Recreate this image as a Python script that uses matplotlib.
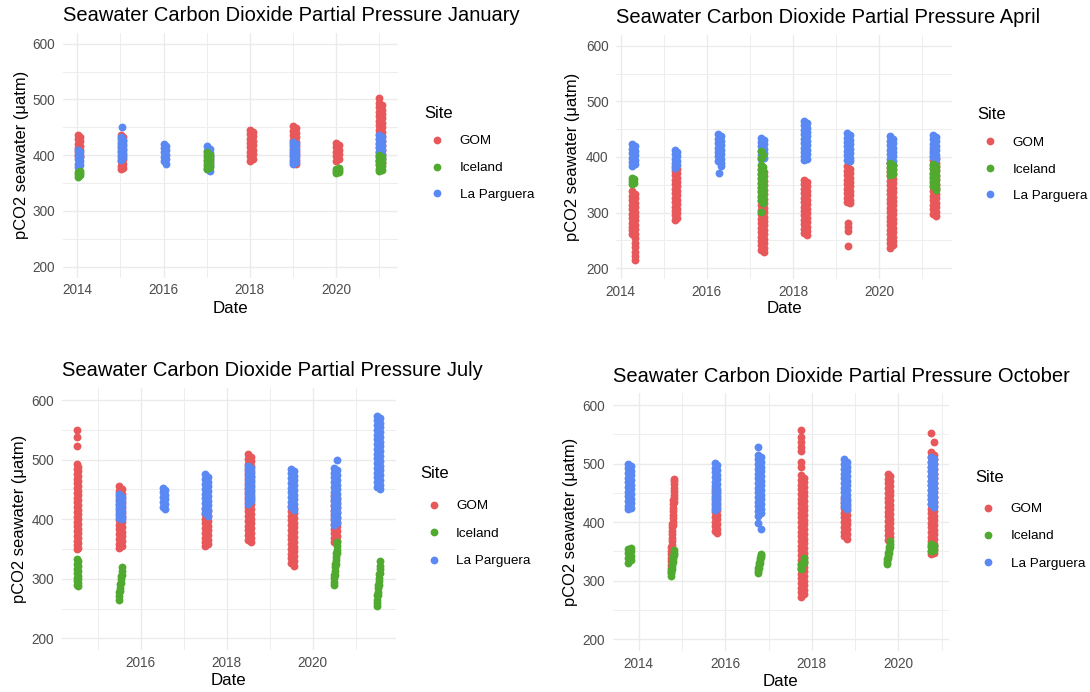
import datetime as dt

import matplotlib

matplotlib.use("Agg")
import matplotlib.dates as mdates
import matplotlib.pyplot as plt
from matplotlib.lines import Line2D
from matplotlib.ticker import FixedLocator, MultipleLocator

plt.rcParams["font.family"] = ["Liberation Sans", "DejaVu Sans"]

# Each entry: (year, day of month, pCO2 readings in µatm).
jan_gom = [
    (2014, 3, [437, 429, 421, 413, 405, 398]), (2014, 26, [433, 425, 417, 409, 401, 396]),
    (2015, 3, [437, 429, 421, 413, 405, 397, 389, 381, 375]),
    (2015, 26, [433, 425, 417, 409, 401, 393, 385, 378]),
    (2017, 26, [398, 392]),
    (2018, 3, [446, 438, 430, 422, 414, 406, 398, 390]),
    (2018, 26, [442, 434, 426, 418, 410, 402, 394]),
    (2019, 3, [452, 444, 436, 428, 420, 412, 404, 396, 388]),
    (2019, 26, [448, 440, 432, 424, 416, 408, 400, 392, 385]),
    (2020, 3, [422, 414, 406, 398, 390]), (2020, 26, [418, 410, 402, 394]),
    (2021, 3, [502, 494, 486, 478, 470, 462, 454, 446, 438, 430, 422, 414, 406, 398, 390, 382]),
    (2021, 26, [490, 482, 474, 466, 458, 450, 442, 434, 426, 418, 410, 402, 394, 386]),
]
jan_ice = [
    (2014, 3, [361, 366, 370]), (2014, 26, [364, 368, 372]),
    (2017, 3, [405, 397, 389, 381, 376]), (2017, 26, [401, 393, 385, 379]),
    (2020, 3, [368, 372, 376]), (2020, 26, [370, 374, 378]),
    (2021, 3, [400, 392, 384, 376, 372]), (2021, 26, [396, 388, 380, 374]),
]
jan_lap = [
    (2014, 3, [409, 401, 393, 385, 379]), (2014, 26, [405, 397, 389, 382]),
    (2015, 14, [450]),
    (2015, 3, [432, 424, 416, 408, 400, 392]), (2015, 26, [428, 420, 412, 404, 396]),
    (2016, 3, [421, 413, 405, 397, 389]), (2016, 26, [417, 409, 401, 393, 385]),
    (2017, 3, [416, 408, 400, 392, 384, 376]), (2017, 26, [412, 404, 396, 388, 380, 372]),
    (2019, 3, [424, 416, 408, 400, 392, 384]), (2019, 26, [420, 412, 404, 396, 388]),
    (2021, 3, [437, 429, 421, 413, 405, 397, 389]), (2021, 26, [433, 425, 417, 409, 401, 393]),
]

apr_gom = [
    (2014, 6, [338, 330, 322, 314, 306, 298, 290, 282, 275, 268, 262]),
    (2014, 30, [334, 326, 318, 310, 302, 294, 286, 278, 270, 262, 254, 246, 238, 230, 222, 214]),
    (2015, 3, [383, 375, 367, 359, 351, 343, 335, 327, 319, 311, 303, 295, 287]),
    (2015, 26, [379, 371, 363, 355, 347, 339, 331, 323, 315, 307, 299, 291]),
    (2017, 3, [377, 369, 361, 353, 345, 337, 329, 321, 313, 305, 297, 289, 281, 273, 265,
               257, 249, 241, 233]),
    (2017, 26, [373, 365, 357, 349, 341, 333, 325, 317, 309, 301, 293, 285, 277, 269, 261,
                253, 245, 237, 230]),
    (2018, 3, [359, 351, 343, 335, 327, 319, 311, 303, 295, 287, 279, 271, 263]),
    (2018, 26, [355, 347, 339, 331, 323, 315, 307, 299, 291, 283, 275, 267, 259]),
    (2019, 3, [383, 375, 367, 359, 351, 343, 335, 327, 319]),
    (2019, 26, [379, 371, 363, 355, 347, 339, 331, 323, 317]),
    (2019, 10, [282, 274, 267, 240]),
    (2020, 3, [389, 381, 373, 365, 357, 349, 341, 333, 325, 317, 309, 301, 293, 285, 277,
               269, 261, 253, 245, 237]),
    (2020, 26, [385, 377, 369, 361, 353, 345, 337, 329, 321, 313, 305, 297, 289, 281, 273,
                265, 257, 249, 241]),
    (2021, 3, [410, 402, 394, 386, 378, 370, 362, 354, 346, 338, 330, 322, 314, 306, 298]),
    (2021, 26, [398, 390, 382, 374, 366, 358, 350, 342, 334, 326, 318, 310, 302, 294]),
]
apr_ice = [
    (2014, 6, [363, 357, 351]), (2014, 26, [360, 354]),
    (2017, 3, [410, 398, 386, 378, 370, 362, 354, 346, 338, 330, 322, 301]),
    (2017, 20, [404, 382, 374, 366, 358, 350, 342, 334, 326, 318]),
    (2020, 3, [390, 382, 374, 367]), (2020, 26, [386, 378, 370]),
    (2021, 3, [388, 380, 372, 364, 356, 348]), (2021, 26, [384, 376, 368, 360, 352, 344, 340]),
]
apr_lap = [
    (2014, 6, [423, 415, 407, 399, 391, 384]), (2014, 28, [419, 411, 403, 395, 388]),
    (2015, 3, [413, 405, 397, 389, 381]), (2015, 26, [409, 401, 393, 385]),
    (2016, 3, [441, 433, 425, 417, 409, 401, 393]),
    (2016, 26, [437, 429, 421, 413, 405, 397, 389, 384]),
    (2016, 14, [371]),
    (2017, 3, [435, 427, 419, 411, 403, 396]), (2017, 26, [431, 423, 415, 407, 399]),
    (2018, 3, [465, 457, 449, 441, 433, 425, 417, 409, 401, 395]),
    (2018, 26, [461, 453, 445, 437, 429, 421, 413, 405, 397]),
    (2019, 3, [443, 435, 427, 419, 411, 403, 395]), (2019, 26, [439, 431, 423, 415, 407, 399, 393]),
    (2020, 3, [437, 429, 421, 413, 405, 397, 389]), (2020, 26, [433, 425, 417, 409, 401, 393, 385]),
    (2021, 3, [440, 432, 424, 416, 408, 400]), (2021, 26, [436, 428, 420, 412, 404, 396]),
]

jul_gom = [
    (2014, 6, [550, 538, 523, 492, 484, 476, 468, 460, 452, 444, 436, 428, 420, 412, 404,
               396, 388, 380, 372, 364, 356, 350]),
    (2014, 12, [488, 480, 472, 464, 456, 448, 440, 432, 424, 416, 408, 400, 392, 384, 376,
                368, 360, 352]),
    (2015, 3, [455, 447, 439, 431, 423, 415, 407, 399, 391, 383, 375, 367, 359, 351]),
    (2015, 26, [451, 443, 435, 427, 419, 411, 403, 395, 387, 379, 371, 363, 355]),
    (2017, 3, [417, 409, 401, 393, 385, 377, 369, 361, 355]),
    (2017, 26, [413, 405, 397, 389, 381, 373, 365, 358]),
    (2018, 3, [509, 501, 493, 485, 477, 469, 461, 453, 445, 437, 429, 421, 413, 405, 397,
               389, 381, 373, 365]),
    (2018, 26, [505, 497, 489, 481, 473, 465, 457, 449, 441, 433, 425, 417, 409, 401, 393,
                385, 377, 369, 362]),
    (2019, 3, [422, 414, 406, 398, 390, 382, 374, 366, 358, 350, 342, 334, 326]),
    (2019, 26, [418, 410, 402, 394, 386, 378, 370, 362, 354, 346, 338, 330, 322]),
    (2020, 3, [440, 432, 424, 416, 408, 400, 392, 384, 376, 368, 361]),
    (2020, 26, [436, 428, 420, 412, 404, 396, 388, 380, 372, 364]),
]
jul_ice = [
    (2014, 6, [333, 325, 317, 309, 302, 296, 290]), (2014, 14, [329, 321, 313, 305, 299, 293, 288]),
    (2015, 2, [265, 271, 277]), (2015, 10, [279, 285, 291]),
    (2015, 18, [293, 299, 305]), (2015, 26, [307, 313, 319]),
    (2020, 2, [289, 295, 301, 307]), (2020, 10, [307, 313, 319, 325]),
    (2020, 18, [325, 331, 337, 343]), (2020, 26, [343, 349, 355, 361]),
    (2021, 2, [254, 259, 265, 272]), (2021, 10, [272, 278, 284, 290]),
    (2021, 18, [290, 296, 302, 308]), (2021, 26, [310, 316, 322, 330]),
]
jul_lap = [
    (2015, 3, [442, 434, 426, 418, 410, 402]), (2015, 26, [438, 430, 422, 414, 406, 400]),
    (2016, 3, [453, 445, 437, 429, 421]), (2016, 26, [449, 441, 433, 425, 417]),
    (2017, 3, [475, 467, 459, 451, 443, 435, 427, 419, 411]),
    (2017, 26, [471, 463, 455, 447, 439, 431, 423, 415, 406]),
    (2018, 3, [490, 482, 474, 466, 458, 450, 442, 434, 426]),
    (2018, 26, [486, 478, 470, 462, 454, 446, 438, 430]),
    (2019, 3, [485, 477, 469, 461, 453, 445, 437, 429, 421]),
    (2019, 26, [481, 473, 465, 457, 449, 441, 433, 425, 416]),
    (2020, 3, [486, 478, 470, 462, 454, 446, 438, 430, 422, 414, 406, 398, 390]),
    (2020, 26, [499, 482, 474, 466, 458, 450, 442, 434, 426, 418, 410, 402, 394]),
    (2021, 3, [574, 566, 558, 550, 542, 534, 526, 518, 510, 502, 494, 486, 478, 470, 462, 454]),
    (2021, 26, [570, 562, 554, 546, 538, 530, 522, 514, 506, 498, 490, 482, 474, 466, 458, 451]),
]

oct_gom = [
    (2014, 2, [315, 321, 327, 333, 339, 345, 351, 357]),
    (2014, 10, [355, 361, 367, 373, 379, 385, 391, 397]),
    (2014, 18, [395, 401, 407, 413, 419, 425, 431, 437]),
    (2014, 26, [435, 441, 447, 453, 459, 465, 471, 474]),
    (2015, 3, [457, 449, 441, 433, 425, 417, 409, 401, 393, 385]),
    (2015, 26, [453, 445, 437, 429, 421, 413, 405, 397, 389, 381]),
    (2017, 3, [558, 545, 537, 529, 522, 502, 494, 480, 472, 464, 456, 448, 440, 432, 424,
               416, 408, 400, 392, 384, 376, 368, 360, 352, 344, 336, 328, 320, 312, 304,
               296, 288, 280, 273]),
    (2017, 26, [476, 468, 460, 452, 444, 436, 428, 420, 412, 404, 396, 388, 380, 372, 364,
                356, 348, 340, 332, 324, 316, 308, 300, 292, 284, 277]),
    (2018, 3, [440, 432, 424, 416, 408, 400, 392, 384, 376]),
    (2018, 26, [436, 428, 420, 412, 404, 396, 388, 380, 371]),
    (2019, 3, [482, 474, 466, 458, 450, 442, 434, 426, 418, 410, 402, 394, 386, 378, 370]),
    (2019, 26, [478, 470, 462, 454, 446, 438, 430, 422, 414, 406, 398, 390, 382, 374]),
    (2020, 3, [553, 519, 511, 503, 495, 487, 479, 471, 463, 455, 447, 439, 431, 423, 415,
               407, 399, 391, 383, 375, 367, 359, 351, 345]),
    (2020, 26, [536, 515, 507, 499, 491, 483, 475, 467, 459, 451, 443, 435, 427, 419, 411,
                403, 395, 387, 379, 371, 363, 355, 348]),
]
oct_ice = [
    (2013, 3, [331, 339, 347, 354]), (2013, 26, [335, 343, 351, 356]),
    (2014, 2, [308, 313, 318]), (2014, 10, [320, 325, 330]),
    (2014, 18, [332, 337, 342]), (2014, 26, [344, 348, 352]),
    (2016, 2, [313, 317, 321]), (2016, 10, [322, 326, 330]),
    (2016, 18, [331, 335, 339]), (2016, 26, [340, 344, 346]),
    (2017, 3, [320, 324, 328]), (2017, 26, [330, 334, 338]),
    (2019, 2, [328, 332, 337]), (2019, 10, [338, 343, 348]),
    (2019, 18, [348, 353, 358]), (2019, 26, [358, 363, 367]),
    (2020, 3, [351, 357, 362]), (2020, 26, [353, 359, 360]),
]
oct_lap = [
    (2013, 3, [500, 492, 484, 476, 468, 460, 452, 444, 436, 428, 422]),
    (2013, 26, [496, 488, 480, 472, 464, 456, 448, 440, 432, 425]),
    (2015, 3, [501, 493, 485, 477, 469, 461, 453, 445, 437, 429, 421]),
    (2015, 26, [497, 489, 481, 473, 465, 457, 449, 441, 433, 425]),
    (2016, 3, [528, 515, 507, 499, 491, 483, 475, 467, 459, 451, 443, 435, 427, 419, 411, 399]),
    (2016, 26, [511, 503, 495, 487, 479, 471, 463, 455, 447, 439, 431, 423, 415, 388]),
    (2018, 3, [507, 499, 491, 483, 475, 467, 459, 451, 443, 435, 427]),
    (2018, 26, [503, 495, 487, 479, 471, 463, 455, 447, 439, 431, 423]),
    (2020, 3, [511, 503, 495, 487, 479, 471, 463, 455, 447, 439, 431]),
    (2020, 26, [507, 499, 491, 483, 475, 467, 459, 451, 443, 435, 426]),
]

sites = ["GOM", "Iceland", "La Parguera"]
colors = {"GOM": "#E8585A", "Iceland": "#4FAA2F", "La Parguera": "#5A89F4"}
draw_order = ["GOM", "La Parguera", "Iceland"]
odd_years = [2013, 2015, 2017, 2019, 2021]

W, H = 1090, 692


def expand(groups, month):
    dates, values = [], []
    for year, day, readings in groups:
        when = dt.date(year, month, 1) + dt.timedelta(days=day - 1)
        dates += [when] * len(readings)
        values += readings
    return dates, values


# month name, month number, data, axes box in pixels (left, top, right, bottom),
# x limits, legend title (x, y px), legend rows top (px), row spacing,
# ylabel x, xlabel y (axes fraction)
panels = [
    ("January", 1, {"GOM": jan_gom, "Iceland": jan_ice, "La Parguera": jan_lap},
     (62.6, 32.6, 398.0, 277.9), ("2013-08-29", "2021-06-09"),
     (424, 113.3), 135.0, 1.07, -0.099, -0.095),
    ("April", 4, {"GOM": apr_gom, "Iceland": apr_ice, "La Parguera": apr_lap},
     (616.3, 34.6, 951.7, 279.4), ("2013-11-24", "2021-09-06"),
     (977, 114.3), 136.6, 1.05, -0.109, -0.090),
    ("July", 7, {"GOM": jul_gom, "Iceland": jul_ice, "La Parguera": jul_lap},
     (61.9, 388.1, 395.6, 650.2), ("2014-03-01", "2021-12-05"),
     (420.5, 473.3), 499.8, 1.12, -0.104, -0.087),
    ("October", 10, {"GOM": oct_gom, "Iceland": oct_ice, "La Parguera": oct_lap},
     (612.8, 393.3, 949.2, 651.0), ("2013-05-27", "2021-03-07"),
     (975, 477.3), 502.8, 1.10, -0.103, -0.089),
]

fig = plt.figure(figsize=(W / 100, H / 100), dpi=100, facecolor="white")

for (month_name, month, data, box, xlim, title_at, rows_top, row_gap,
     ylab_x, xlab_y) in panels:
    left, top, right, bottom = box
    ax = fig.add_axes([left / W, 1 - bottom / H, (right - left) / W, (bottom - top) / H])
    for site in draw_order:
        dates, values = expand(data[site], month)
        ax.scatter(dates, values, s=32, color=colors[site], linewidths=0,
                   zorder=3 + draw_order.index(site))

    ax.set_xlim(dt.date.fromisoformat(xlim[0]), dt.date.fromisoformat(xlim[1]))
    ax.set_ylim(180, 620)
    ax.xaxis.set_major_locator(mdates.YearLocator(2))
    ax.xaxis.set_minor_locator(
        FixedLocator([mdates.date2num(dt.date(y, 1, 1)) for y in odd_years]))
    ax.xaxis.set_major_formatter(mdates.DateFormatter("%Y"))
    ax.yaxis.set_major_locator(MultipleLocator(100))
    ax.yaxis.set_minor_locator(FixedLocator([250, 350, 450, 550]))
    ax.grid(which="minor", color="#EEEEEE", linewidth=0.7, zorder=0)
    ax.grid(which="major", color="#EBEBEB", linewidth=1.0, zorder=1)
    ax.set_axisbelow(True)
    for spine in ax.spines.values():
        spine.set_visible(False)
    ax.tick_params(which="both", length=0)
    ax.tick_params(axis="x", pad=4, labelsize=9.8, labelcolor="#4D4D4D")
    ax.tick_params(axis="y", pad=5.5, labelsize=9.8, labelcolor="#4D4D4D")

    ax.set_title(f"Seawater Carbon Dioxide Partial Pressure {month_name}",
                 loc="left", fontsize=14.5, pad=8.4)
    ax.set_xlabel("Date", fontsize=12.2)
    ax.set_ylabel("pCO2 seawater (μatm)", fontsize=11.9)
    ax.xaxis.set_label_coords(0.5, xlab_y)
    ax.yaxis.set_label_coords(ylab_x, 0.5)

    handles = [
        Line2D([], [], marker="o", linestyle="", markersize=5.6,
               markeredgewidth=0, color=colors[site])
        for site in sites
    ]
    ax.legend(handles, sites, loc="upper left",
              bbox_to_anchor=(title_at[0] / W, 1 - rows_top / H),
              bbox_transform=fig.transFigure, frameon=False, borderpad=0,
              borderaxespad=0, fontsize=9.7, handlelength=2.0,
              handletextpad=0.65, labelspacing=row_gap)
    fig.text(title_at[0] / W, 1 - title_at[1] / H, "Site", fontsize=12.0,
             ha="left", va="center")

fig.savefig("out.png", dpi=100, facecolor="white")
